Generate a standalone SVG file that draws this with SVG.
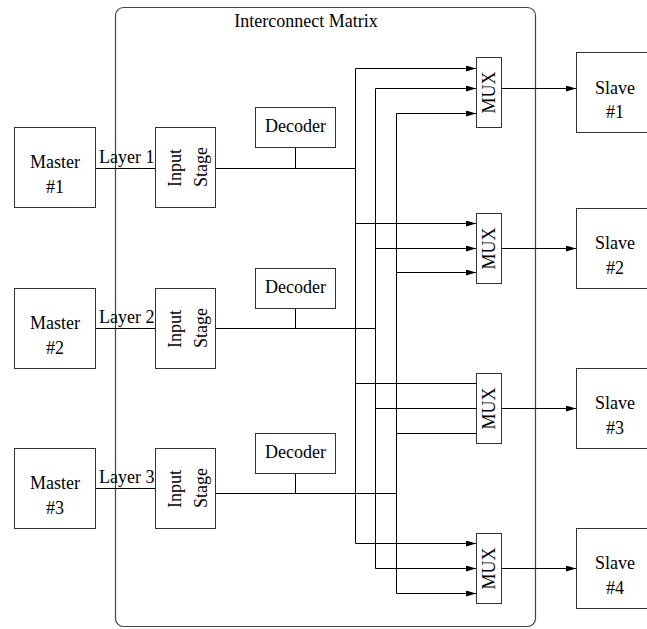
<svg xmlns="http://www.w3.org/2000/svg" width="647" height="629" viewBox="0 0 647 629">
<defs>
<marker id="ah" markerWidth="10" markerHeight="6" refX="10" refY="3" orient="auto" markerUnits="userSpaceOnUse">
<path d="M0,0 L10,3 L0,6 Z" fill="#000"/>
</marker>
</defs>
<style>
text{font-family:"Liberation Serif","Times New Roman",serif;font-size:18px;fill:#000}
.box{fill:#fff;stroke:#333;stroke-width:1}
.c{fill:none;stroke:#000;stroke-width:1}
.a{fill:none;stroke:#000;stroke-width:1;marker-end:url(#ah)}
.mid{text-anchor:middle}
</style>
<rect width="647" height="629" fill="#fff"/>
<g id="matrix">
<rect x="115.5" y="7.5" width="420" height="619" rx="8" ry="8" fill="none" stroke="#444" stroke-width="1.2"/>
<text x="306" y="27" class="mid">Interconnect Matrix</text>
</g>
<g id="connectors">
<path class="c" d="M95,168.5 H155 M95,328.5 H155 M95,488.5 H155"/>
<path class="c" d="M215,168.5 H355.5 M215,328.5 H375.5 M215,493.5 H396.5"/>
<path class="c" d="M295.5,147 V168.5 M295.5,308 V328.5 M295.5,473 V493.5"/>
<path class="c" d="M355.5,68.5 V543.5 M375.5,88.5 V568.5 M396.5,113.5 V593.5"/>
<path class="a" d="M355.5,68.5 H476"/>
<path class="a" d="M375.5,88.5 H476"/>
<path class="a" d="M396.5,113.5 H476"/>
<path class="a" d="M355.5,223.5 H476"/>
<path class="a" d="M375.5,248.5 H476"/>
<path class="a" d="M396.5,272.5 H476"/>
<path class="c" d="M355.5,383.5 H476 M375.5,408.5 H476 M396.5,433.5 H476"/>
<path class="a" d="M355.5,543.5 H476"/>
<path class="a" d="M375.5,568.5 H476"/>
<path class="a" d="M396.5,593.5 H476"/>
<path class="a" d="M501,88.5 H576"/>
<path class="a" d="M501,248.5 H576"/>
<path class="a" d="M501,408.5 H576"/>
<path class="a" d="M501,568.5 H576"/>
</g>
<text x="99" y="163">Layer 1</text>
<text x="99" y="323">Layer 2</text>
<text x="99" y="483">Layer 3</text>
<g id="master1"><rect class="box" x="14.5" y="127.5" width="81" height="80"/><text x="55" y="168" class="mid">Master</text><text x="55" y="193" class="mid">#1</text></g>
<g id="master2"><rect class="box" x="14.5" y="288.5" width="81" height="80"/><text x="55" y="329" class="mid">Master</text><text x="55" y="354" class="mid">#2</text></g>
<g id="master3"><rect class="box" x="14.5" y="448.5" width="81" height="80"/><text x="55" y="489" class="mid">Master</text><text x="55" y="514" class="mid">#3</text></g>
<g id="input1"><rect class="box" x="155.5" y="127.5" width="60" height="80"/><text transform="translate(181,187) rotate(-90)">Input</text><text transform="translate(207,187) rotate(-90)">Stage</text></g>
<g id="input2"><rect class="box" x="155.5" y="288.5" width="60" height="80"/><text transform="translate(181,348) rotate(-90)">Input</text><text transform="translate(207,348) rotate(-90)">Stage</text></g>
<g id="input3"><rect class="box" x="155.5" y="448.5" width="60" height="80"/><text transform="translate(181,508) rotate(-90)">Input</text><text transform="translate(207,508) rotate(-90)">Stage</text></g>
<g id="decoder1"><rect class="box" x="255.5" y="107.5" width="80" height="40"/><text x="295.5" y="132" class="mid">Decoder</text></g>
<g id="decoder2"><rect class="box" x="255.5" y="268.5" width="80" height="40"/><text x="295.5" y="293" class="mid">Decoder</text></g>
<g id="decoder3"><rect class="box" x="255.5" y="433.5" width="80" height="40"/><text x="295.5" y="458" class="mid">Decoder</text></g>
<g id="mux1"><rect class="box" x="476.5" y="57.5" width="25" height="70"/><text transform="translate(495,92.5) rotate(-90)" class="mid">MUX</text></g>
<g id="mux2"><rect class="box" x="476.5" y="213.5" width="25" height="70"/><text transform="translate(495,248.5) rotate(-90)" class="mid">MUX</text></g>
<g id="mux3"><rect class="box" x="476.5" y="373.5" width="25" height="70"/><text transform="translate(495,408.5) rotate(-90)" class="mid">MUX</text></g>
<g id="mux4"><rect class="box" x="476.5" y="533.5" width="25" height="70"/><text transform="translate(495,568.5) rotate(-90)" class="mid">MUX</text></g>
<g id="slave1"><rect class="box" x="576.5" y="52.5" width="80" height="80"/><text x="615" y="94" class="mid">Slave</text><text x="615" y="118" class="mid">#1</text></g>
<g id="slave2"><rect class="box" x="576.5" y="208.5" width="80" height="80"/><text x="615" y="249" class="mid">Slave</text><text x="615" y="274" class="mid">#2</text></g>
<g id="slave3"><rect class="box" x="576.5" y="368.5" width="80" height="80"/><text x="615" y="409" class="mid">Slave</text><text x="615" y="434" class="mid">#3</text></g>
<g id="slave4"><rect class="box" x="576.5" y="528.5" width="80" height="80"/><text x="615" y="569" class="mid">Slave</text><text x="615" y="594" class="mid">#4</text></g>
</svg>
